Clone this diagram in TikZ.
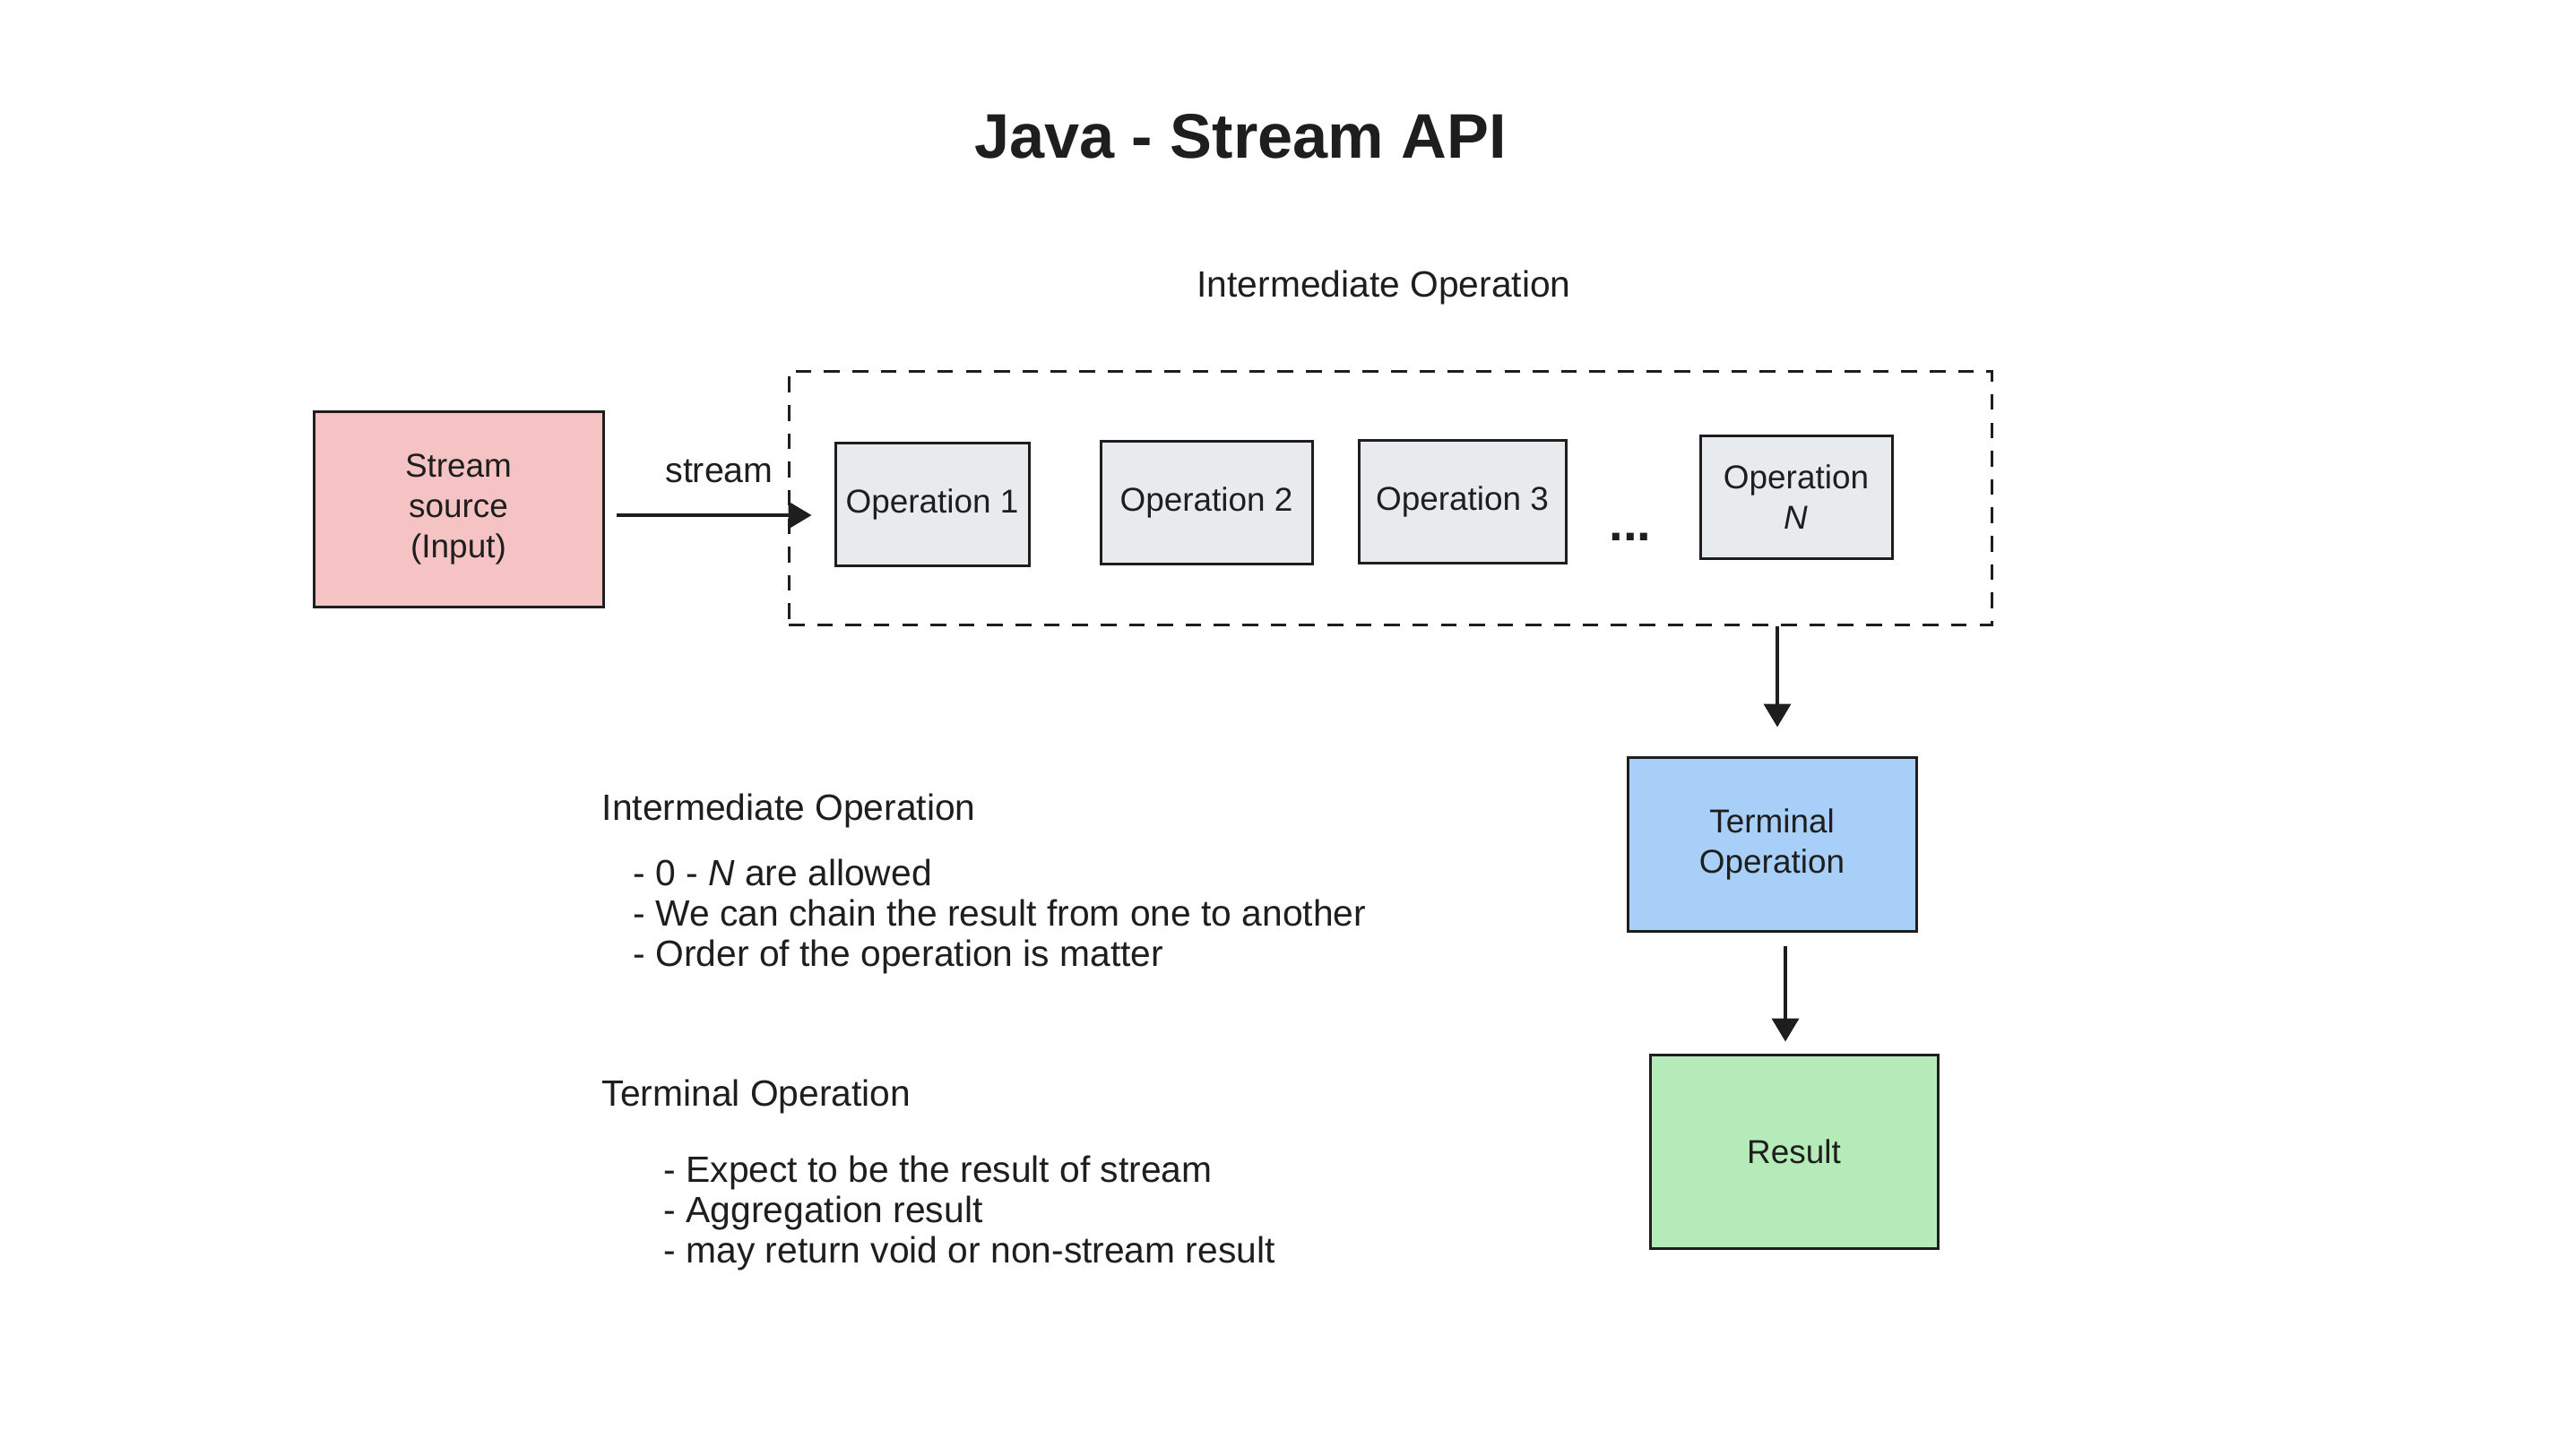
\documentclass[tikz,border=0pt]{standalone}
\usepackage{fontspec}
\setmainfont{Liberation Sans}
\usetikzlibrary{arrows.meta,positioning}

\definecolor{ink}{HTML}{1E1E1E}
\definecolor{srcfill}{HTML}{F5C3C3}
\definecolor{opfill}{HTML}{E8EBEE}
\definecolor{termfill}{HTML}{A7CFF8}
\definecolor{resfill}{HTML}{B4EBB8}

\begin{document}
\begin{tikzpicture}[
    every node/.style={text=ink, font=\fontsize{10.5}{12.8}\selectfont},
    box/.style={draw=ink, line width=0.85pt, align=center, inner sep=2pt},
    opbox/.style={box, fill=opfill, minimum height=1.37cm},
    flow/.style={draw=ink, line width=1.1pt, -{Triangle[length=0.26cm,width=0.3cm]}},
    note/.style={anchor=west, align=left, inner sep=0pt, font=\fontsize{11.6}{12.8}\selectfont}
]
\useasboundingbox[fill=white] (0,0) rectangle (28.44,-16.24);

% title
\node (title) at (13.84,-1.52) {\fontsize{20}{24}\selectfont\bfseries Java - Stream API};

% intermediate stage
\node[font=\fontsize{11.6}{12.8}\selectfont] (framelabel) at (15.44,-3.21) {Intermediate Operation};
\node[draw=ink, line width=0.85pt, dash pattern=on 5pt off 4pt,
      minimum width=13.42cm, minimum height=2.83cm] (frame) at (15.51,-5.555) {};

\node[box, fill=srcfill, minimum width=3.23cm, minimum height=2.18cm] (src) at (5.115,-5.68)
    {Stream\\source\\(Input)};
\node[opbox, minimum width=2.16cm] (op1) at (10.40,-5.63) {Operation 1};
\node[opbox, minimum width=2.36cm] (op2) at (13.46,-5.605) {Operation 2};
\node[opbox, minimum width=2.31cm] (op3) at (16.315,-5.60) {Operation 3};
\node (dots) at (18.19,-5.99) {\fontsize{16}{18}\selectfont\bfseries ...};
\node[opbox, minimum width=2.14cm] (opN) at (20.04,-5.55) {Operation\\\textit{N}};

% terminal stage
\node[box, fill=termfill, minimum width=3.22cm, minimum height=1.94cm] (term) at (19.77,-9.42)
    {Terminal\\Operation};
\node[box, fill=resfill, minimum width=3.21cm, minimum height=2.16cm] (res) at (20.015,-12.85)
    {Result};

\draw[flow, shorten <=0.13cm, shorten >=0.25cm] ([yshift=-0.07cm]src.east) -- ([yshift=-0.07cm]src.east -| op1.west)
    node[midway, above=0.22cm, font=\fontsize{11.2}{12.8}\selectfont] (streamlabel) {stream};
\draw[flow, shorten >=0.32cm] ([xshift=0.06cm]frame.south -| term.north) -- ([xshift=0.06cm]term.north);
\draw[flow, shorten <=0.15cm, shorten >=0.13cm] ([xshift=0.15cm]term.south) -- ([xshift=0.15cm]term.south |- res.north);

% notes
\node[note] (inthead) at (6.71,-9.05) {Intermediate Operation};
\node[note] (intlist) at (7.06,-10.23)
    {- 0 - \textit{N} are allowed\\
     - We can chain the result from one to another\\
     - Order of the operation is matter};
\node[note] (termhead) at (6.71,-12.24) {Terminal Operation};
\node[note] (termlist) at (7.40,-13.54)
    {- Expect to be the result of stream\\
     - Aggregation result\\
     - may return void or non-stream result};
\end{tikzpicture}
\end{document}
